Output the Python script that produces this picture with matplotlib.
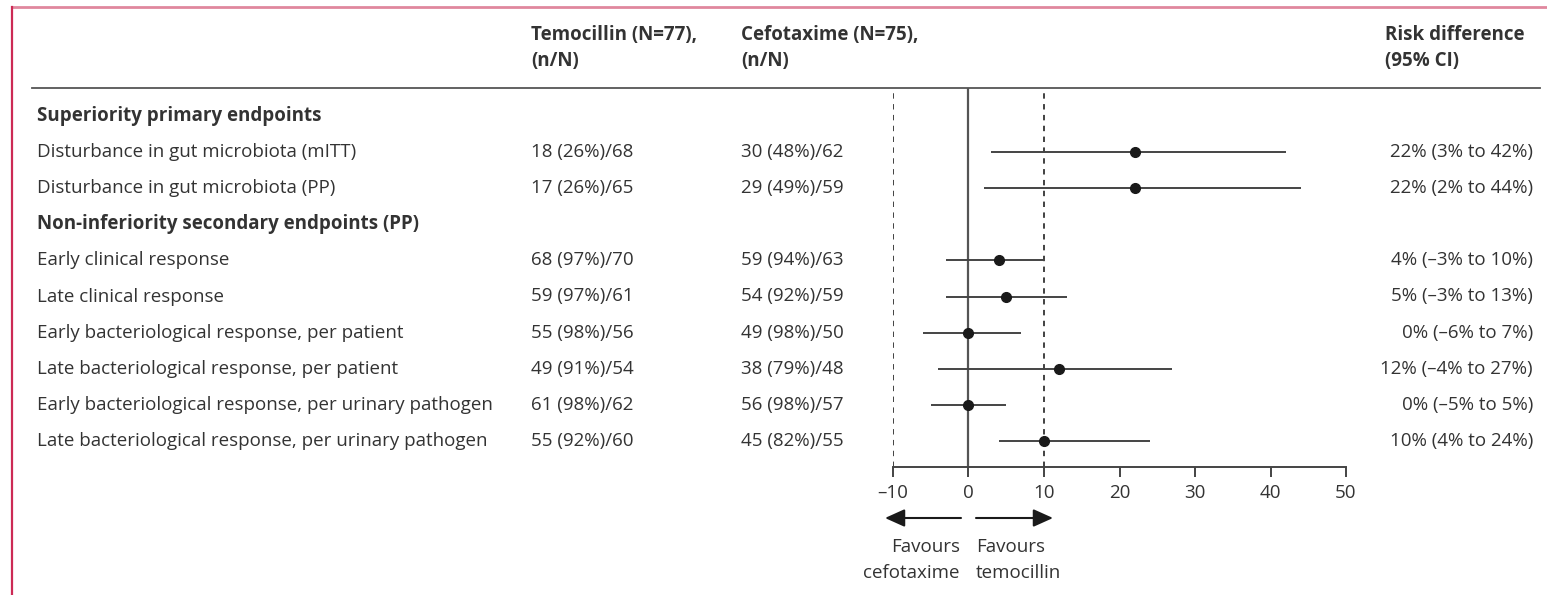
import matplotlib
matplotlib.use("Agg")
import matplotlib.pyplot as plt
from matplotlib.lines import Line2D
from matplotlib.patches import FancyArrowPatch

# rows of the table, None marks a bold section header
labels = [
    "Superiority primary endpoints",
    "Disturbance in gut microbiota (mITT)",
    "Disturbance in gut microbiota (PP)",
    "Non-inferiority secondary endpoints (PP)",
    "Early clinical response",
    "Late clinical response",
    "Early bacteriological response, per patient",
    "Late bacteriological response, per patient",
    "Early bacteriological response, per urinary pathogen",
    "Late bacteriological response, per urinary pathogen",
]
is_header = [True, False, False, True, False, False, False, False, False, False]
temo = [None, "18 (26%)/68", "17 (26%)/65", None, "68 (97%)/70", "59 (97%)/61",
        "55 (98%)/56", "49 (91%)/54", "61 (98%)/62", "55 (92%)/60"]
cefo = [None, "30 (48%)/62", "29 (49%)/59", None, "59 (94%)/63", "54 (92%)/59",
        "49 (98%)/50", "38 (79%)/48", "56 (98%)/57", "45 (82%)/55"]
rd = [None, 22, 22, None, 4, 5, 0, 12, 0, 10]
lo = [None, 3, 2, None, -3, -3, -6, -4, -5, 4]
hi = [None, 42, 44, None, 10, 13, 7, 27, 5, 24]
xticks = [-10, 0, 10, 20, 30, 40, 50]
margin = 10

W, H = 1547, 595
TXT = "#333333"
FONT = "Open Sans"
FS = 13.5

fig = plt.figure(figsize=(W / 100, H / 100), dpi=100)
fig.patch.set_facecolor("white")


def fx(x):
    return x / W


def fy(y):
    return 1 - y / H


def put(x, y, s, **kw):
    kw.setdefault("color", TXT)
    kw.setdefault("fontsize", FS)
    kw.setdefault("family", FONT)
    kw.setdefault("va", "center")
    fig.text(fx(x), fy(y), s, **kw)


# frame edges
fig.add_artist(Line2D([fx(12), 1], [fy(7), fy(7)], color="#e0879e", lw=2))
fig.add_artist(Line2D([fx(12), fx(12)], [fy(7), 0], color="#cc2a55", lw=1.6))

# column headers
put(531, 35, "Temocillin (N=77),", weight="bold")
put(531, 61, "(n/N)", weight="bold")
put(741, 35, "Cefotaxime (N=75),", weight="bold")
put(741, 61, "(n/N)", weight="bold")
put(1385, 35, "Risk difference", weight="bold")
put(1385, 61, "(95% CI)", weight="bold")
fig.add_artist(Line2D([fx(32), fx(1540)], [fy(88), fy(88)], color="#555555", lw=1.3))

row0, step = 116, 36.1
rows_y = [row0 + i * step for i in range(len(labels))]

for i, y in enumerate(rows_y):
    put(37, y, labels[i], weight="bold" if is_header[i] else "normal")
    if temo[i]:
        put(531, y, temo[i])
        put(741, y, cefo[i])
        txt = f"{rd[i]}% ({lo[i]}% to {hi[i]}%)".replace("-", "\u2013")
        put(1533, y, txt, ha="right")

# forest panel, y in pixel rows so it lines up with the table
ax = fig.add_axes([fx(893), fy(467), fx(1346) - fx(893), fy(88) - fy(467)])
ax.set_xlim(-10, 50)
ax.set_ylim(467, 88)
ax.patch.set_alpha(0)
for side in ["top", "right", "left"]:
    ax.spines[side].set_visible(False)
ax.spines["bottom"].set_color("#444444")
ax.spines["bottom"].set_linewidth(1.4)
ax.set_yticks([])
ax.set_xticks(xticks)
ax.set_xticklabels([str(t).replace("-", "\u2013") for t in xticks],
                   fontsize=FS, family=FONT, color=TXT)
ax.tick_params(axis="x", direction="out", length=7, width=1.4, color="#444444", pad=5)

ax.axvline(0, color="#555555", lw=1.6, zorder=1)
ax.axvline(-margin, color="#333333", lw=1.3, ls=(0, (3, 3)), zorder=1)
ax.axvline(margin, color="#333333", lw=1.3, ls=(0, (3, 3)), zorder=1)

for i, y in enumerate(rows_y):
    if rd[i] is None:
        continue
    ax.plot([lo[i], hi[i]], [y, y], color="#444444", lw=1.4, zorder=2,
            solid_capstyle="butt")
    ax.plot(rd[i], y, "o", color="#1a1a1a", ms=7, zorder=3)

# direction arrows under the axis
arr = dict(arrowstyle="-|>,head_length=0.6,head_width=0.27", color="#1a1a1a",
           lw=1.5, mutation_scale=20, shrinkA=0, shrinkB=0)
fig.add_artist(FancyArrowPatch((fx(961), fy(518)), (fx(885), fy(518)),
                               transform=fig.transFigure, **arr))
fig.add_artist(FancyArrowPatch((fx(976), fy(518)), (fx(1053), fy(518)),
                               transform=fig.transFigure, **arr))
put(960, 547, "Favours", ha="right")
put(960, 573, "cefotaxime", ha="right")
put(976, 547, "Favours", ha="left")
put(976, 573, "temocillin", ha="left")

fig.savefig("out.png", dpi=100, facecolor="white")
